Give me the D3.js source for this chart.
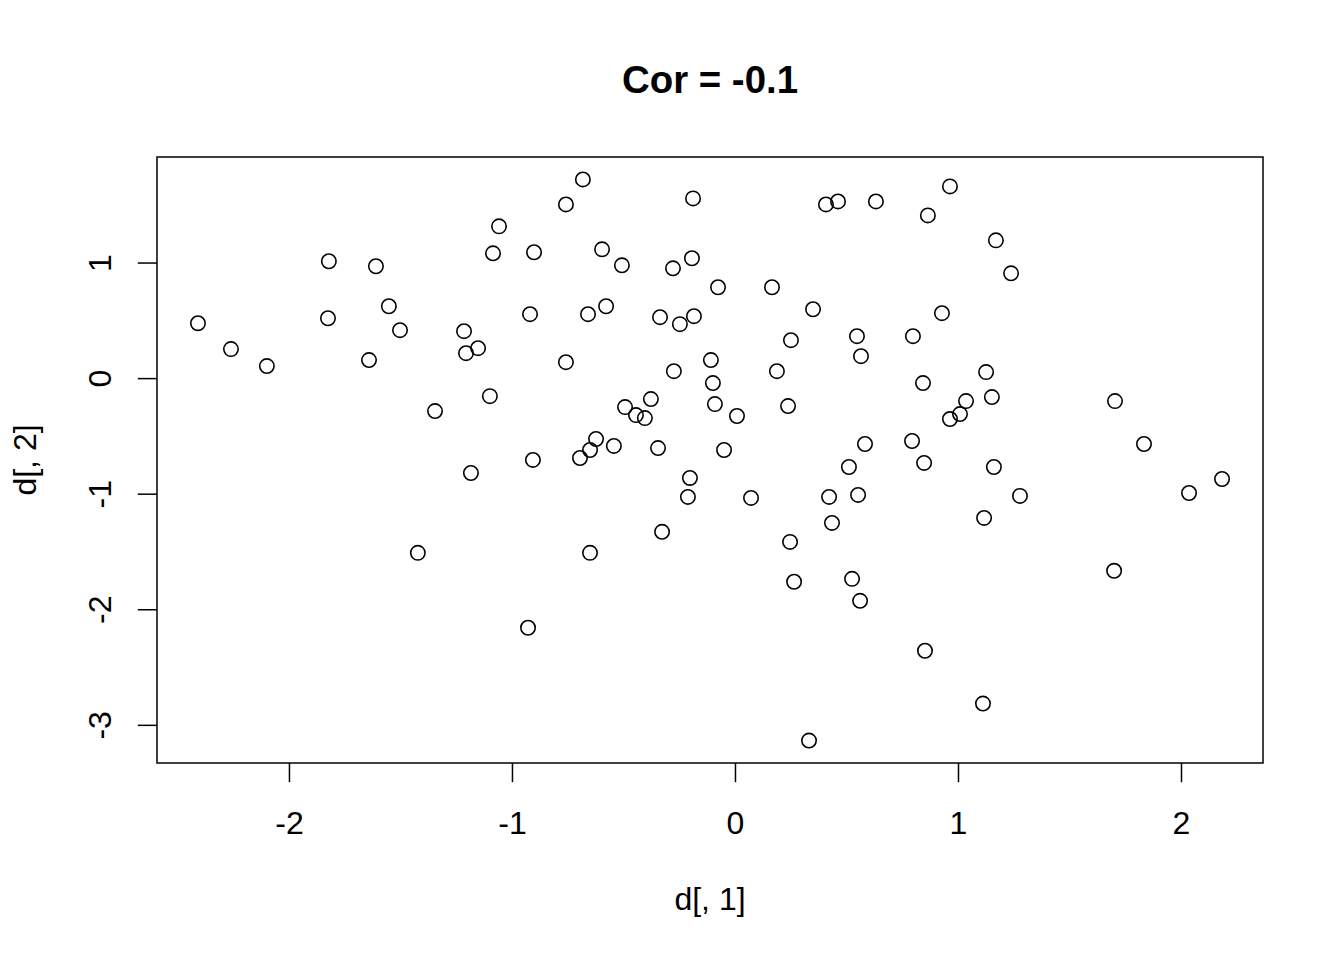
<!DOCTYPE html>
<html>
<head>
<meta charset="utf-8">
<script src="https://cdn.jsdelivr.net/npm/d3@7"></script>
<style>
  body { margin: 0; background: white; }
  svg { display: block; }
</style>
</head>
<body>
<svg></svg>
<script>
var titleText = "Cor = -0.1";
var xLabel = "d[, 1]";
var yLabel = "d[, 2]";
var xTicks = [-2, -1, 0, 1, 2];
var yTicks = [-3, -2, -1, 0, 1];

// d[, 1] values
var xs = [-2.408, -2.260, -2.099, -1.821, -1.825, -1.610, -1.552, -1.502, -1.641, -1.345,
          -1.422, -1.215, -1.206, -1.152, -1.184, -1.099, -1.085, -1.058, -0.901, -0.919,
          -0.906, -0.928, -0.758, -0.682, -0.758, -0.659, -0.596, -0.578, -0.507, -0.695,
          -0.650, -0.623, -0.543, -0.493, -0.444, -0.404, -0.377, -0.345, -0.650, -0.336,
          -0.327, -0.278, -0.274, -0.247, -0.188, -0.193, -0.184, -0.202, -0.211, -0.108,
          -0.099, -0.090, -0.076, -0.049, 0.009, 0.072, 0.166, 0.188, 0.251, 0.238,
          0.247, 0.265, 0.350, 0.332, 0.408, 0.462, 0.547, 0.565, 0.583, 0.511,
          0.422, 0.435, 0.552, 0.525, 0.561, 0.632, 0.865, 0.964, 0.798, 0.928,
          0.843, 0.794, 0.848, 0.852, 0.964, 1.009, 1.036, 1.170, 1.238, 1.126,
          1.152, 1.161, 1.117, 1.112, 1.278, 1.704, 1.834, 1.700, 2.036, 2.184];
// d[, 2] values
var ys = [0.475, 0.251, 0.104, 1.011, 0.518, 0.968, 0.622, 0.415, 0.156, -0.285,
          -1.512, 0.406, 0.216, 0.259, -0.821, -0.156, 1.080, 1.313, 1.089, 0.553,
          -0.708, -2.160, 1.503, 1.719, 0.138, 0.553, 1.114, 0.622, 0.976, -0.691,
          -0.622, -0.527, -0.587, -0.251, -0.320, -0.346, -0.181, -0.605, -1.512, 0.527,
          -1.330, 0.950, 0.060, 0.467, 1.555, 1.037, 0.536, -0.864, -1.028, 0.156,
          -0.043, -0.225, 0.786, -0.622, -0.328, -1.037, 0.786, 0.060, 0.328, -0.242,
          -1.417, -1.762, 0.596, -3.136, 1.503, 1.529, 0.363, 0.190, -0.570, -0.769,
          -1.028, -1.253, -1.011, -1.737, -1.927, 1.529, 1.408, 1.659, 0.363, 0.562,
          -0.043, -0.544, -0.734, -2.359, -0.354, -0.311, -0.199, 1.192, 0.907, 0.052,
          -0.164, -0.769, -1.210, -2.816, -1.019, -0.199, -0.570, -1.667, -0.994, -0.873];

var W = 1344, H = 960;
var box = { left: 157, right: 1263, top: 157, bottom: 763 };
var font = "'Liberation Sans', Arial, Helvetica, sans-serif";
var fs = 32, tickLen = 19.2;

var svg = d3.select("svg").attr("width", W).attr("height", H);
svg.append("rect").attr("width", W).attr("height", H).attr("fill", "white");

// R pads the data range by 4% on each side
var xr = d3.extent(xs), yr = d3.extent(ys);
var xp = (xr[1] - xr[0]) * 0.04, yp = (yr[1] - yr[0]) * 0.04;
var x = d3.scaleLinear().domain([xr[0] - xp, xr[1] + xp]).range([box.left, box.right]);
var y = d3.scaleLinear().domain([yr[0] - yp, yr[1] + yp]).range([box.bottom, box.top]);

// plain hyphen for negatives, like R
var fmt = function (d) { return String(d); };

var xAxis = svg.append("g")
    .attr("transform", "translate(0," + box.bottom + ")")
    .call(d3.axisBottom(x).tickValues(xTicks).tickFormat(fmt)
        .tickSizeInner(tickLen).tickSizeOuter(0));
var yAxis = svg.append("g")
    .attr("transform", "translate(" + box.left + ",0)")
    .call(d3.axisLeft(y).tickValues(yTicks).tickFormat(fmt)
        .tickSizeInner(tickLen).tickSizeOuter(0));

[xAxis, yAxis].forEach(function (a) {
    a.select(".domain").remove();
    a.selectAll(".tick line").attr("stroke", "#000").attr("stroke-width", 1.5);
    a.selectAll(".tick text").attr("font-family", font).attr("font-size", fs).attr("fill", "#000");
});

xAxis.selectAll(".tick text")
    .attr("y", 834 - box.bottom)
    .attr("dy", null);

// y tick labels rotated, as R does with las = 0
yAxis.selectAll(".tick text")
    .attr("x", null).attr("dy", null)
    .attr("text-anchor", "middle")
    .attr("transform", "translate(" + (111 - box.left) + ",0) rotate(-90)");

svg.append("rect")
    .attr("x", box.left).attr("y", box.top)
    .attr("width", box.right - box.left).attr("height", box.bottom - box.top)
    .attr("fill", "none").attr("stroke", "#000").attr("stroke-width", 1.5);

svg.append("g").selectAll("circle")
    .data(d3.range(xs.length))
    .join("circle")
    .attr("cx", function (i) { return x(xs[i]); })
    .attr("cy", function (i) { return y(ys[i]); })
    .attr("r", 7.2)
    .attr("fill", "none")
    .attr("stroke", "#000")
    .attr("stroke-width", 1.6);

svg.append("text")
    .attr("x", (box.left + box.right) / 2).attr("y", 93)
    .attr("text-anchor", "middle")
    .attr("font-family", font).attr("font-size", fs * 1.2).attr("font-weight", "bold")
    .text(titleText);

svg.append("text")
    .attr("x", (box.left + box.right) / 2).attr("y", 910)
    .attr("text-anchor", "middle")
    .attr("font-family", font).attr("font-size", fs)
    .text(xLabel);

svg.append("text")
    .attr("transform", "translate(36," + (box.top + box.bottom) / 2 + ") rotate(-90)")
    .attr("text-anchor", "middle")
    .attr("font-family", font).attr("font-size", fs)
    .text(yLabel);
</script>
</body>
</html>
